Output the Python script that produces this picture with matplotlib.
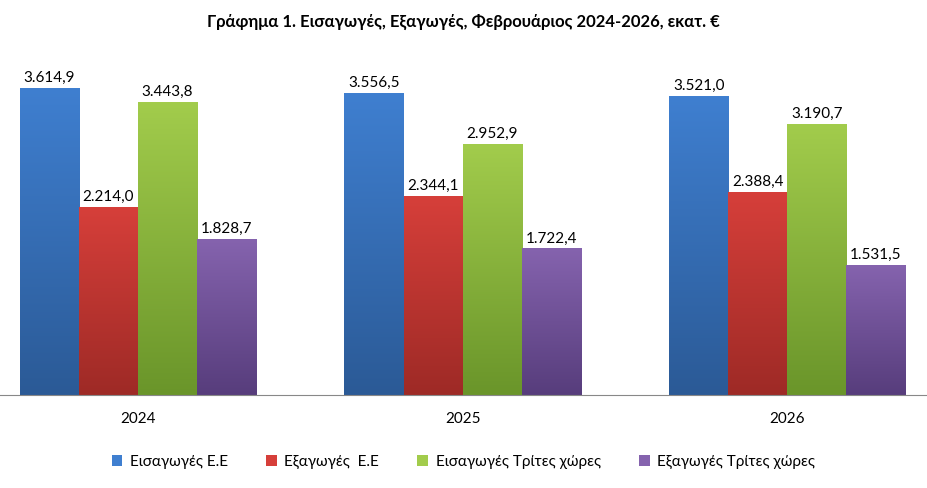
import numpy as np
import matplotlib.pyplot as plt
from matplotlib.colors import LinearSegmentedColormap
from matplotlib.patches import Patch

plt.rcParams['font.family'] = ['Lato', 'DejaVu Sans']

years = ['2024', '2025', '2026']
series = ['Εισαγωγές Ε.Ε', 'Εξαγωγές  Ε.Ε', 'Εισαγωγές Τρίτες χώρες', 'Εξαγωγές Τρίτες χώρες']
imports_eu = [3614.9, 3556.5, 3521.0]
exports_eu = [2214.0, 2344.1, 2388.4]
imports_third = [3443.8, 2952.9, 3190.7]
exports_third = [1828.7, 1722.4, 1531.5]
values = [imports_eu, exports_eu, imports_third, exports_third]

# (top colour, bottom colour) for the gradient fill
colors = [('#3f7fd0', '#2b5a96'), ('#d63f3a', '#9e2a26'),
          ('#a2cc4c', '#6a952a'), ('#8563ae', '#573d7c')]


def fmt(v):
    s = f'{v:,.1f}'
    return s.replace(',', 'X').replace('.', ',').replace('X', '.')


fig = plt.figure(figsize=(9.27, 4.88), dpi=100)
ax = fig.add_axes([0.0, 0.1906, 1.0, 0.727])
width = 0.182
x = np.arange(len(years))
ymax = 4180
grad = np.linspace(1, 0, 256).reshape(-1, 1)

for i, (vals, (top, bot)) in enumerate(zip(values, colors)):
    cmap = LinearSegmentedColormap.from_list(f'c{i}', [bot, top])
    pos = x + (i - 1.5) * width
    bars = ax.bar(pos, vals, width, color='none', edgecolor='none')
    for b, v in zip(bars, vals):
        x0 = b.get_x()
        ax.imshow(grad, cmap=cmap, extent=[x0, x0 + width, 0, v],
                  aspect='auto', zorder=2, vmin=0, vmax=1)
        ax.text(x0 + width / 2, v + 40, fmt(v), ha='center', va='bottom',
                fontsize=11)

ax.set_xlim(-0.425, 2.43)
ax.set_ylim(0, ymax)
ax.set_xticks(x)
ax.set_xticklabels(years, fontsize=11)
ax.tick_params(axis='x', length=0, pad=12)
ax.set_yticks([])
for s in ['top', 'right', 'left']:
    ax.spines[s].set_visible(False)
ax.spines['bottom'].set_color('#888888')

fig.text(0.5, 0.955, 'Γράφημα 1. Εισαγωγές, Εξαγωγές, Φεβρουάριος 2024-2026, εκατ. €',
         ha='center', va='center', fontsize=12, fontweight='bold')

handles = [Patch(facecolor=c[0]) for c in colors]
fig.legend(handles, series, loc='center', bbox_to_anchor=(0.5, 0.053), ncol=4,
           frameon=False, fontsize=11, handlelength=0.7, handleheight=0.7,
           columnspacing=2.5, handletextpad=0.5)

fig.savefig('out.png', dpi=100)
